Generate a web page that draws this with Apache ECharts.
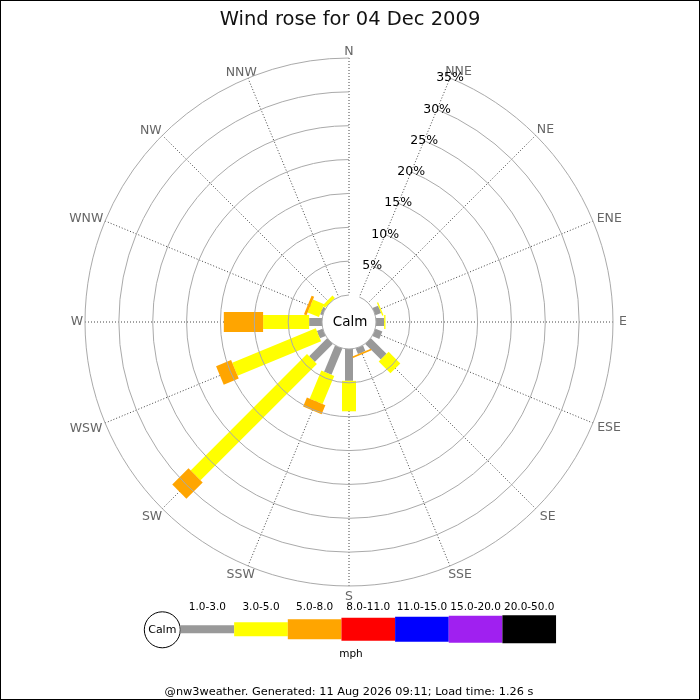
<!DOCTYPE html>
<html><head><meta charset="utf-8">
<script src="https://cdn.jsdelivr.net/npm/echarts@6/dist/echarts.min.js"></script>
<style>
html,body{margin:0;padding:0;background:#fff;}
#chart{position:absolute;left:0;top:0;width:700px;height:700px;}
#frame{position:absolute;left:0;top:0;width:700px;height:700px;box-sizing:border-box;border:1px solid #000;pointer-events:none;}
</style></head><body>
<div id="chart"></div><div id="frame"></div>
<script>
// ---- data ----
const directions = ['N','NNE','NE','ENE','E','ESE','SE','SSE','S','SSW','SW','WSW','W','WNW','NW','NNW'];
const speedClasses = ['1.0-3.0','3.0-5.0','5.0-8.0','8.0-11.0','11.0-15.0','15.0-20.0','20.0-50.0'];
// percent of time per direction, per speed class (mph)
const speed1to3   = [0,0,0,0.9,1.2,1.1,3.25,0.9,4.7,4.2,3.75,0.9,1.9,0.4,0,0];
const speed3to5   = [0,0,0,0.2,0.2,0,2.45,0,4.5,4.5,24.3,13.35,6.8,1.8,0.5,0];
const speed5to8   = [0,0,0,0,0,0,0,0.25,0,1.45,3.4,2.4,5.8,0.4,0,0];
const speed8to11  = [0,0,0,0,0,0,0,0,0,0,0,0,0,0,0,0];
const speed11to15 = [0,0,0,0,0,0,0,0,0,0,0,0,0,0,0,0];
const speed15to20 = [0,0,0,0,0,0,0,0,0,0,0,0,0,0,0,0];
const speed20to50 = [0,0,0,0,0,0,0,0,0,0,0,0,0,0,0,0];
const radiusTicks = [0,5,10,15,20,25,30,35];
const radiusTickLabels = ['','5%','10%','15%','20%','25%','30%','35%'];
const titleText = 'Wind rose for 04 Dec 2009';
const footerText = '@nw3weather. Generated: 11 Aug 2026 09:11; Load time: 1.26 s';

// ---- styles ----
const classColors = ['#999999','#ffff00','#ffa500','#ff0000','#0000ff','#a020f0','#000000'];
const classBarWidths = [8,14,20,23,25,27,28];
const legendHeights = [8,14,20,23,25,27,28];
const FONT = 'DejaVu Sans';
// fine label nudges (text padding [top,right,bottom,left]) per direction label
const dirLabelPadding = {
  N:[0,0,-3,0], NNE:[0,0,-3,-6], NE:[0,0,-3.5,-1], ENE:[0,0,-5.5,1], E:[0,0,0,3],
  ESE:[-2.5,0,0,1.5], SE:[-1,0,0,2], SSE:[0,0,0,-3], S:[1,0,0,0], SSW:[0,-8,0,0],
  SW:[-1,-2,0,0], WSW:[-2,0,0,0], W:[0,-1,0,0], WNW:[0,-1,-5.5,0], NW:[0,-1.5,-3.6,0], NNW:[0,-10,-3.5,0]
};

const allSeries = [speed1to3,speed3to5,speed5to8,speed8to11,speed11to15,speed15to20,speed20to50];
// angle categories start at NNE so the % labels lie on the NNE spoke
const angleCats = directions.slice(1).concat(directions.slice(0,1));

const cum = directions.map(()=>0);
const series = [];
allSeries.forEach((vals, k) => {
  const data = [];
  vals.forEach((v, i) => {
    const a = angleCats.indexOf(directions[i]);
    data.push([cum[i], cum[i] + v, a]);
    cum[i] += v;
  });
  const w = classBarWidths[k], color = classColors[k];
  series.push({
    type: 'custom',
    name: speedClasses[k],
    coordinateSystem: 'polar',
    dimensions: ['r0','r1','dir'],
    encode: { radius: [0,1], angle: 2 },
    z: 5 + k,
    silent: true,
    data: data,
    renderItem: function (params, api) {
      const r0 = api.value(0), r1 = api.value(1), a = api.value(2);
      if (!(r1 - r0 > 0)) return null;
      const o = api.coord([0, a]);
      const f = api.coord([radiusTicks[radiusTicks.length-1], a]);
      let ux = f[0]-o[0], uy = f[1]-o[1];
      const L = Math.sqrt(ux*ux+uy*uy); ux/=L; uy/=L;
      const nx = -uy*w/2, ny = ux*w/2;
      const p0 = api.coord([r0, a]), p1 = api.coord([r1, a]);
      return {
        type: 'polygon',
        shape: { points: [[p0[0]+nx,p0[1]+ny],[p1[0]+nx,p1[1]+ny],[p1[0]-nx,p1[1]-ny],[p0[0]-nx,p0[1]-ny]] },
        style: { fill: color }
      };
    }
  });
});

// ---- graphic: calm, legend, footer ----
const graphic = [];
graphic.push({type:'text', x:350, y:322, z:20, style:{text:'Calm', align:'center', verticalAlign:'middle', fontSize:13.5, fontFamily:FONT, fill:'#000'}});
graphic.push({type:'circle', shape:{cx:162.3, cy:629.8, r:18}, style:{fill:'#fff', stroke:'#000', lineWidth:1}});
graphic.push({type:'text', x:162.3, y:630, style:{text:'Calm', align:'center', verticalAlign:'middle', fontSize:11, fontFamily:FONT, fill:'#000'}});
const lx0 = 180.5, lstep = 53.65, lcy = 629.2;
speedClasses.forEach((lab, i) => {
  graphic.push({type:'rect', shape:{x: lx0 + i*lstep, y: lcy - legendHeights[i]/2, width: lstep, height: legendHeights[i]}, style:{fill: classColors[i]}});
  graphic.push({type:'text', x: lx0 + i*lstep + lstep/2, y: 607, style:{text: lab, align:'center', verticalAlign:'middle', fontSize:10.5, fontFamily:FONT, fill:'#000'}});
});
graphic.push({type:'text', x:351, y:654, style:{text:'mph', align:'center', verticalAlign:'middle', fontSize:10.5, fontFamily:FONT, fill:'#000'}});
graphic.push({type:'text', x:349, y:692, style:{text: footerText, align:'center', verticalAlign:'middle', fontSize:11.3, fontFamily:FONT, fill:'#000'}});

const chart = echarts.init(document.getElementById('chart'), null, {renderer:'canvas'});
chart.setOption({
  animation: false,
  backgroundColor: '#fff',
  title: { text: titleText, left: 'center', top: 5, textStyle: { fontSize: 19.5, fontWeight: 'normal', color: '#111', fontFamily: FONT } },
  polar: { center: [349, 322], radius: [27, 264] },
  angleAxis: {
    type: 'category',
    data: angleCats.map(c => ({ value: c, textStyle: { padding: dirLabelPadding[c] } })),
    boundaryGap: false, startAngle: 67.5, clockwise: true,
    axisLine: { show: false }, axisTick: { show: false },
    axisLabel: { color: '#666', fontSize: 12.5, fontFamily: FONT, margin: 3 },
    splitLine: { show: true, lineStyle: { color: '#444', width: 1, type: [1, 2] } },
    z: 2
  },
  radiusAxis: {
    type: 'value', min: radiusTicks[0], max: radiusTicks[radiusTicks.length-1], interval: radiusTicks[1]-radiusTicks[0],
    axisLine: { show: false }, axisTick: { show: false },
    axisLabel: { formatter: v => radiusTickLabels[radiusTicks.indexOf(v)] || '', color: '#000', fontSize: 12.5, fontFamily: FONT, margin: 0, align: 'center', verticalAlign: 'middle', showMinLabel: false },
    splitLine: { show: true, lineStyle: { color: '#aaa', width: 1 } },
    z: 30
  },
  series: series,
  graphic: graphic
});
</script></body></html>
